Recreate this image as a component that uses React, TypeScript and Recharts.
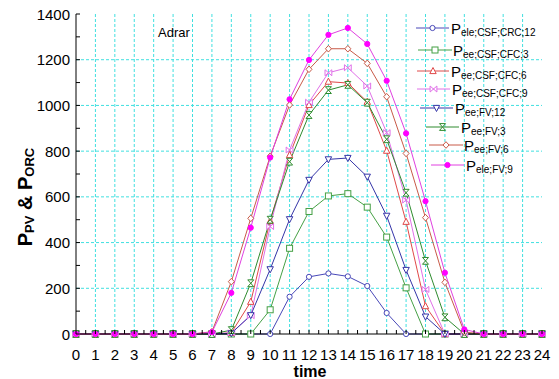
import React from "react";
import { LineChart, Line, XAxis, YAxis, CartesianGrid } from "recharts";

const HOURS = [0, 1, 2, 3, 4, 5, 6, 7, 8, 9, 10, 11, 12, 13, 14, 15, 16, 17, 18, 19, 20, 21, 22, 23, 24];

// power per hour (W)
const ELE_CSF_CRC_12 = [0, 0, 0, 0, 0, 0, 0, 0, 0, 0, 0, 163, 250, 265, 252, 210, 92, 0, 0, 0, 0, 0, 0, 0, 0];
const EE_CSF_CFC_3 = [0, 0, 0, 0, 0, 0, 0, 0, 0, 0, 106, 375, 536, 604, 614, 555, 424, 202, 0, 0, 0, 0, 0, 0, 0];
const EE_CSF_CFC_6 = [0, 0, 0, 0, 0, 0, 0, 0, 5, 141, 495, 783, 1002, 1104, 1098, 1016, 802, 491, 122, 0, 0, 0, 0, 0, 0];
const EE_CSF_CFC_9 = [0, 0, 0, 0, 0, 0, 0, 0, 5, 80, 470, 805, 1014, 1143, 1165, 1085, 881, 586, 195, 0, 0, 0, 0, 0, 0];
const EE_FV_12 = [0, 0, 0, 0, 0, 0, 0, 0, 3, 82, 283, 502, 674, 764, 770, 688, 517, 280, 76, 0, 0, 0, 0, 0, 0];
const EE_FV_3 = [0, 0, 0, 0, 0, 0, 0, 0, 17, 222, 500, 754, 958, 1067, 1090, 1012, 852, 618, 320, 73, 0, 0, 0, 0, 0];
const EE_FV_6 = [0, 0, 0, 0, 0, 0, 0, 10, 229, 506, 778, 1002, 1158, 1248, 1248, 1184, 1038, 790, 509, 226, 8, 0, 0, 0, 0];
const ELE_FV_9 = [0, 0, 0, 0, 0, 0, 0, 8, 180, 465, 772, 1027, 1199, 1309, 1339, 1269, 1108, 878, 581, 268, 20, 0, 0, 0, 0];

const X_TICKS = [0, 0.5, 1, 1.5, 2, 2.5, 3, 3.5, 4, 4.5, 5, 5.5, 6, 6.5, 7, 7.5, 8, 8.5, 9, 9.5, 10, 10.5, 11, 11.5, 12, 12.5, 13, 13.5, 14, 14.5, 15, 15.5, 16, 16.5, 17, 17.5, 18, 18.5, 19, 19.5, 20, 20.5, 21, 21.5, 22, 22.5, 23, 23.5, 24];
const Y_TICKS = [0, 100, 200, 300, 400, 500, 600, 700, 800, 900, 1000, 1100, 1200, 1300, 1400];
const GRID_X = [1, 2, 3, 4, 5, 6, 7, 8, 9, 10, 11, 12, 13, 14, 15, 16, 17, 18, 19, 20, 21, 22, 23];
const GRID_Y = [200, 400, 600, 800, 1000, 1200];

const SERIES = [
	{ key: "a", sub: "ele;CSF;CRC;12", color: "#4848b8", marker: "circle", values: ELE_CSF_CRC_12 },
	{ key: "b", sub: "ee;CSF;CFC;3", color: "#45a045", marker: "square", values: EE_CSF_CFC_3 },
	{ key: "c", sub: "ee;CSF;CFC;6", color: "#e04848", marker: "triangle", values: EE_CSF_CFC_6 },
	{ key: "d", sub: "ee;CSF;CFC;9", color: "#e070e8", marker: "bowtie", values: EE_CSF_CFC_9 },
	{ key: "e", sub: "ee;FV;12", color: "#3535a8", marker: "triangleDown", values: EE_FV_12 },
	{ key: "f", sub: "ee;FV;3", color: "#2e8b2e", marker: "hourglass", values: EE_FV_3 },
	{ key: "g", sub: "ee;FV;6", color: "#c85a48", marker: "diamond", values: EE_FV_6 },
	{ key: "h", sub: "ele;FV;9", color: "#e040e0", marker: "dot", values: ELE_FV_9 },
];

// legend placement (line start, line end, text x, y)
const LEGEND_POS = [
	[416, 449, 451, 28],
	[418, 452, 453, 50],
	[417, 449, 451, 71],
	[417, 450, 452, 89],
	[420, 453, 455, 108],
	[426, 459, 461, 127],
	[429, 463, 464, 145],
	[431, 464, 466, 165],
];

const data = HOURS.map((h, i) => {
	const row: any = { hour: h };
	SERIES.forEach((s) => {
		row[s.key] = s.values[i];
	});
	return row;
});

const FONT = "'Liberation Sans', Arial, sans-serif";

function marker(kind: string, cx: number, cy: number, color: string, key?: any) {
	const common = { stroke: color, strokeWidth: 1, fill: "#fff" };
	switch (kind) {
		case "circle":
			return <circle key={key} cx={cx} cy={cy} r={2.6} {...common} />;
		case "square":
			return <rect key={key} x={cx - 3} y={cy - 3} width={6} height={6} {...common} />;
		case "triangle":
			return <polygon key={key} points={`${cx},${cy - 3.5} ${cx + 3.2},${cy + 2.6} ${cx - 3.2},${cy + 2.6}`} {...common} />;
		case "triangleDown":
			return <polygon key={key} points={`${cx},${cy + 3.5} ${cx + 3.2},${cy - 2.6} ${cx - 3.2},${cy - 2.6}`} {...common} />;
		case "bowtie":
			return <polygon key={key} points={`${cx - 3.4},${cy - 3} ${cx + 3.4},${cy + 3} ${cx + 3.4},${cy - 3} ${cx - 3.4},${cy + 3}`} {...common} />;
		case "hourglass":
			return <polygon key={key} points={`${cx - 3},${cy - 3.4} ${cx + 3},${cy - 3.4} ${cx - 3},${cy + 3.4} ${cx + 3},${cy + 3.4}`} {...common} />;
		case "diamond":
			return <polygon key={key} points={`${cx},${cy - 3.3} ${cx + 3},${cy} ${cx},${cy + 3.3} ${cx - 3},${cy}`} {...common} />;
		default:
			return <circle key={key} cx={cx} cy={cy} r={2.6} fill="#ff00ff" stroke="#ff00ff" strokeWidth={1} />;
	}
}

const BottomTick = (props: any) => {
	const { x, y, payload } = props;
	const v = payload.value;
	return (
		<g>
			<line x1={x} y1={y} x2={x} y2={y - 4} stroke="#000" />
			{Number.isInteger(v) && (
				<text x={x} y={y + 26} textAnchor="middle" fontSize={15} fontFamily={FONT} fill="#000">
					{v}
				</text>
			)}
		</g>
	);
};

const TopTick = (props: any) => {
	const { x, y } = props;
	return <line x1={x} y1={y} x2={x} y2={y + 4} stroke="#000" />;
};

const LeftTick = (props: any) => {
	const { x, y, payload } = props;
	const v = payload.value;
	return (
		<g>
			<line x1={x} y1={y} x2={x + 4} y2={y} stroke="#000" />
			{v % 200 === 0 && (
				<text x={x - 6} y={y + 5.5} textAnchor="end" fontSize={15} fontFamily={FONT} fill="#000">
					{v}
				</text>
			)}
		</g>
	);
};

const RightTick = (props: any) => {
	const { x, y } = props;
	return <line x1={x} y1={y} x2={x - 4} y2={y} stroke="#000" />;
};

export default function App() {
	return (
		<div style={{ position: "fixed", left: 0, top: 0, width: 559, height: 379, background: "#fff" }}>
			<LineChart width={559} height={379} data={data} margin={{ top: 14, right: 17, bottom: 0, left: 26 }}>
				<CartesianGrid
					stroke="#40e0e0"
					strokeDasharray="3 2"
					verticalValues={GRID_X}
					horizontalValues={GRID_Y}
				/>
				<XAxis
					dataKey="hour"
					type="number"
					domain={[0, 24]}
					ticks={X_TICKS}
					interval={0}
					height={45}
					tickSize={0}
					tickMargin={0}
					stroke="#000"
					tick={<BottomTick />}
				/>
				<XAxis
					xAxisId="top"
					orientation="top"
					dataKey="hour"
					type="number"
					domain={[0, 24]}
					ticks={X_TICKS}
					interval={0}
					height={0}
					tickSize={0}
					tickMargin={0}
					stroke="#000"
					allowDataOverflow
					tick={<TopTick />}
				/>
				<YAxis
					type="number"
					domain={[0, 1400]}
					ticks={Y_TICKS}
					interval={0}
					width={50}
					tickSize={0}
					tickMargin={0}
					stroke="#000"
					tick={<LeftTick />}
				/>
				<YAxis
					yAxisId="right"
					orientation="right"
					type="number"
					domain={[0, 1400]}
					ticks={Y_TICKS}
					interval={0}
					width={0}
					tickSize={0}
					tickMargin={0}
					stroke="#000"
					allowDataOverflow
					tick={<RightTick />}
				/>
				{SERIES.map((s) => (
					<Line
						key={s.key}
						dataKey={s.key}
						type="linear"
						stroke={s.color}
						strokeWidth={1}
						isAnimationActive={false}
						dot={(p: any) => marker(s.marker, p.cx, p.cy, s.color, `${s.key}-${p.index}`)}
						activeDot={false}
					/>
				))}
			</LineChart>
			<svg
				width={559}
				height={379}
				style={{ position: "absolute", left: 0, top: 0, pointerEvents: "none" }}
				fontFamily={FONT}
			>
				<text x={158} y={37} fontSize={13} fill="#000">Adrar</text>
				<text x={310} y={377} textAnchor="middle" fontSize={16} fontWeight="bold" fill="#000">time</text>
				<text transform="translate(32,197) rotate(-90)" textAnchor="middle" fontWeight="bold" fill="#000">
					<tspan fontSize={20}>P</tspan>
					<tspan fontSize={13} dy={2}>PV</tspan>
					<tspan fontSize={20} dy={-2}> &amp; P</tspan>
					<tspan fontSize={13} dy={2}>ORC</tspan>
				</text>
				{SERIES.map((s, i) => {
					const [x1, x2, tx, y] = LEGEND_POS[i];
					return (
						<g key={s.key}>
							<line x1={x1} y1={y} x2={x2} y2={y} stroke={s.color} />
							{marker(s.marker, (x1 + x2) / 2, y, s.color)}
							<text x={tx} y={y + 6} fill="#000">
								<tspan fontSize={15}>P</tspan>
								<tspan fontSize={10} dy={2}>{s.sub}</tspan>
							</text>
						</g>
					);
				})}
			</svg>
		</div>
	);
}
